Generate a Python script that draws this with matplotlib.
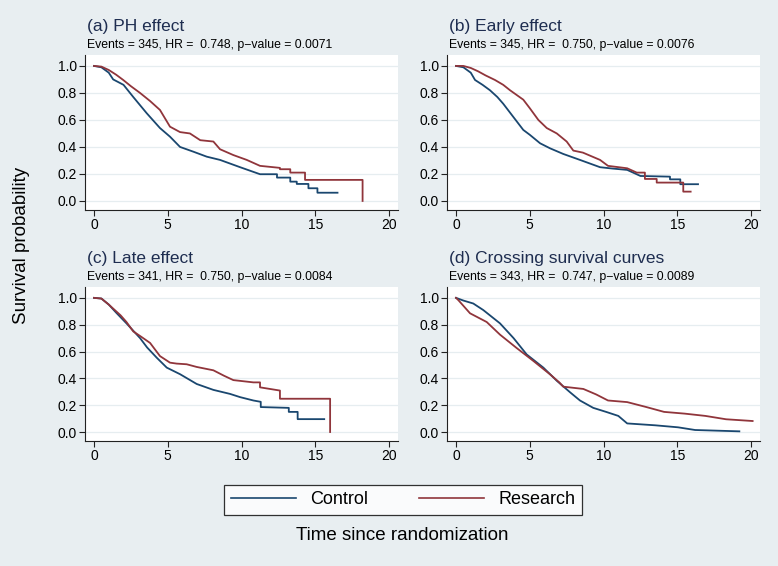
import matplotlib
matplotlib.use("Agg")
import matplotlib.pyplot as plt
from matplotlib.lines import Line2D

# Survival curves.
# Steep parts are many tiny steps, so they are drawn as a line;
# the visible steps in the tails are written as repeated times.

# (a) PH effect
a_t_ctrl = [0, 0.5, 1.0, 1.3, 2.0, 2.66, 3.57, 4.47, 5.15, 5.83, 6.73, 7.64, 8.54, 9.9, 11.25,
            12.4, 12.4, 13.3, 13.3, 13.74, 13.74, 14.53, 14.53, 15.14, 15.14, 16.5]
a_s_ctrl = [1.0, 0.99, 0.95, 0.9, 0.86, 0.77, 0.65, 0.54, 0.476, 0.40, 0.365, 0.328, 0.304, 0.25, 0.198,
            0.198, 0.173, 0.173, 0.143, 0.143, 0.126, 0.126, 0.094, 0.094, 0.061, 0.061]
a_t_res = [0, 0.5, 1.0, 1.5, 1.98, 2.5, 3.12, 3.8, 4.47, 5.15, 5.83, 6.5, 7.2, 8.09, 8.54, 9.44,
           10.35, 11.25, 12.6, 12.6, 13.3, 13.3, 14.3, 14.3, 18.2, 18.2]
a_s_res = [1.0, 0.995, 0.97, 0.935, 0.896, 0.85, 0.80, 0.74, 0.674, 0.55, 0.51, 0.50, 0.45, 0.44, 0.383, 0.34,
           0.304, 0.26, 0.245, 0.235, 0.235, 0.21, 0.21, 0.156, 0.156, 0.0]

# (b) Early effect
b_t_ctrl = [0, 0.5, 1.0, 1.29, 1.8, 2.3, 2.8, 3.2, 3.9, 4.56, 5.0, 5.7, 6.37, 7.27, 8.4, 9.76,
            10.6, 11.6, 12.5, 14.5, 14.5, 15.2, 15.2, 16.4]
b_s_ctrl = [1.0, 0.99, 0.95, 0.896, 0.86, 0.82, 0.77, 0.72, 0.62, 0.526, 0.49, 0.427, 0.39, 0.348, 0.304, 0.25,
            0.24, 0.23, 0.185, 0.18, 0.16, 0.16, 0.124, 0.124]
b_t_res = [0, 0.5, 1.0, 1.5, 2.0, 2.64, 3.2, 3.66, 4.56, 5.0, 5.58, 6.15, 6.83, 7.5, 7.95, 8.6,
           9.76, 10.3, 11.6, 12.25, 12.8, 12.8, 13.6, 13.6, 15.4, 15.4, 15.9]
b_s_res = [1.0, 1.0, 0.985, 0.96, 0.93, 0.896, 0.86, 0.82, 0.75, 0.687, 0.60, 0.54, 0.50, 0.44, 0.373, 0.358,
           0.304, 0.26, 0.242, 0.21, 0.21, 0.163, 0.163, 0.136, 0.136, 0.069, 0.069]

# (c) Late effect
c_t_ctrl = [0, 0.5, 1.0, 1.5, 2.2, 3.12, 3.6, 4.25, 4.93, 5.83, 6.96, 8.09, 9.22, 9.9, 10.8,
            11.3, 11.3, 13.2, 13.2, 13.8, 13.8, 15.6]
c_s_ctrl = [1.0, 0.995, 0.95, 0.89, 0.81, 0.70, 0.63, 0.554, 0.48, 0.431, 0.358, 0.314, 0.284, 0.26, 0.235,
            0.225, 0.186, 0.18, 0.15, 0.15, 0.096, 0.096]
c_t_res = [0, 0.5, 1.0, 1.3, 1.8, 2.2, 2.66, 3.2, 3.8, 4.47, 5.15, 5.6, 6.28, 6.96, 8.09, 8.8,
           9.44, 10.8, 11.25, 11.25, 12.6, 12.6, 16.0, 16.0]
c_s_res = [1.0, 0.995, 0.95, 0.92, 0.87, 0.82, 0.75, 0.71, 0.664, 0.566, 0.517, 0.51, 0.505, 0.485, 0.46, 0.42,
           0.387, 0.37, 0.37, 0.333, 0.309, 0.248, 0.248, 0.0]

# (d) Crossing survival curves
d_t_ctrl = [0, 0.5, 1.17, 1.85, 2.98, 3.9, 4.79, 5.92, 6.83, 7.73, 8.4, 9.3, 10.2, 11.0, 11.6,
            13.5, 15.05, 16.2, 19.2]
d_s_ctrl = [1.0, 0.98, 0.958, 0.909, 0.81, 0.70, 0.578, 0.48, 0.382, 0.296, 0.235, 0.18, 0.149, 0.12, 0.064,
            0.05, 0.035, 0.015, 0.005]
d_t_res = [0, 0.16, 0.95, 2.08, 2.98, 4.1, 5.24, 6.37, 7.0, 7.27, 8.63, 9.5, 10.3, 11.6, 12.9,
           14.1, 15.5, 16.9, 18.3, 20.1]
d_s_res = [1.0, 0.983, 0.885, 0.82, 0.726, 0.627, 0.53, 0.43, 0.37, 0.338, 0.321, 0.28, 0.235, 0.223, 0.186,
           0.15, 0.137, 0.12, 0.095, 0.082]

titles = ["(a) PH effect", "(b) Early effect", "(c) Late effect", "(d) Crossing survival curves"]
subtitles = ["Events = 345, HR =  0.748, p\u2212value = 0.0071",
             "Events = 345, HR =  0.750, p\u2212value = 0.0076",
             "Events = 341, HR =  0.750, p\u2212value = 0.0084",
             "Events = 343, HR =  0.747, p\u2212value = 0.0089"]
y_ticks = [0.0, 0.2, 0.4, 0.6, 0.8, 1.0]
x_ticks = [0, 5, 10, 15, 20]

ctrl_col = "#1a476f"
res_col = "#90353b"
bg = "#e8eef1"

plt.rcParams['font.family'] = ['Liberation Sans', 'DejaVu Sans']

W, H = 778, 566
fig = plt.figure(figsize=(W / 100, H / 100), dpi=100, facecolor=bg)

# axes boxes in pixels: left, top, right, bottom
boxes = [(85, 55, 398, 210), (447, 55, 760, 210), (85, 287, 398, 441), (447, 287, 760, 441)]
data = [(a_t_ctrl, a_s_ctrl, a_t_res, a_s_res),
        (b_t_ctrl, b_s_ctrl, b_t_res, b_s_res),
        (c_t_ctrl, c_s_ctrl, c_t_res, c_s_res),
        (d_t_ctrl, d_s_ctrl, d_t_res, d_s_res)]

for i in range(4):
    l, t, r, b = boxes[i]
    ax = fig.add_axes([l / W, 1 - b / H, (r - l) / W, (b - t) / H])
    ax.set_facecolor("white")
    tc, sc, tr, sr = data[i]
    ax.plot(tc, sc, color=ctrl_col, lw=1.3)
    ax.plot(tr, sr, color=res_col, lw=1.3)
    ax.set_xlim(-0.61, 20.6)
    ax.set_ylim(-0.067, 1.081)
    ax.set_yticks(y_ticks)
    ax.set_yticklabels([f"{v:.1f}" for v in y_ticks])
    ax.set_xticks(x_ticks)
    ax.grid(axis='y', color="#e6edf0", lw=0.9)
    ax.set_axisbelow(True)
    for s in ['top', 'right']:
        ax.spines[s].set_visible(False)
    for s in ['left', 'bottom']:
        ax.spines[s].set_color("#222222")
        ax.spines[s].set_linewidth(0.8)
    ax.tick_params(length=4, width=0.8, color="#222222", labelsize=10, pad=2)
    ax.text(0.005, 1.0 + 29 / (b - t), titles[i], transform=ax.transAxes,
            fontsize=12.5, color="#1e2d50", ha='left', va='center')
    ax.text(0.005, 1.0 + 10 / (b - t), subtitles[i], transform=ax.transAxes,
            fontsize=8.8, color="black", ha='left', va='center')

fig.text(22 / W, 1 - 245 / H, "Survival probability", rotation=90, fontsize=13.5,
         ha='center', va='center')
fig.text(402 / W, 1 - 536 / H, "Time since randomization", fontsize=13.5,
         ha='center', va='center')

handles = [Line2D([], [], color=ctrl_col, lw=1.2), Line2D([], [], color=res_col, lw=1.2)]
leg = fig.legend(handles, ["Control", "Research"], ncol=2, loc='center',
                 bbox_to_anchor=(403 / W, 1 - 500 / H), fontsize=13, frameon=True,
                 fancybox=False, edgecolor="black", handlelength=3.6, columnspacing=2.8,
                 borderpad=0.35, handletextpad=0.8)
leg.get_frame().set_linewidth(0.9)

fig.savefig("out.png", dpi=100, facecolor=bg)
